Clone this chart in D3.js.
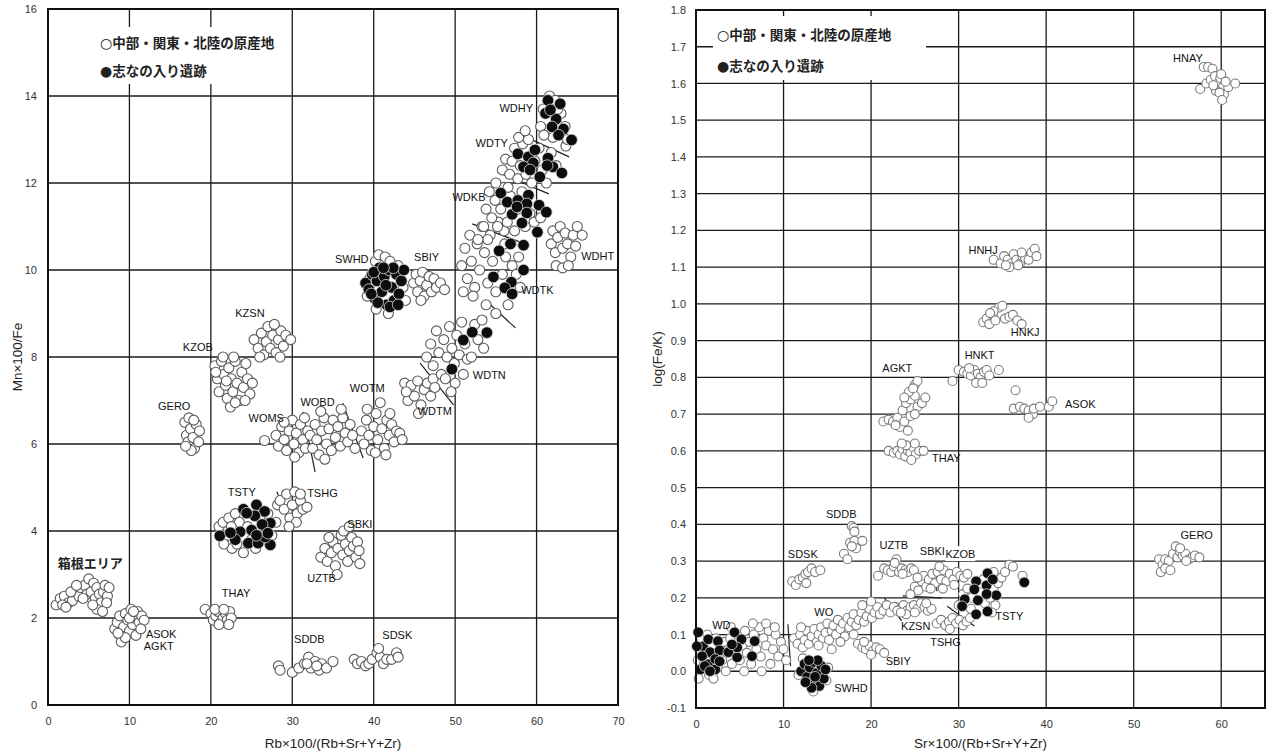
<!DOCTYPE html>
<html>
<head>
<meta charset="utf-8">
<script src="https://cdn.jsdelivr.net/npm/d3@7"></script>
<style>
  body { margin: 0; background: #fff; }
  svg { display: block; }
  .tick-label { font-family: "Liberation Sans", Arial, sans-serif; font-size: 11px; fill: #333; }
  .axis-title { font-family: "Liberation Sans", Arial, sans-serif; font-size: 13.5px; fill: #222; }
  .grp-label { font-family: "Liberation Sans", Arial, sans-serif; font-size: 11px; fill: #111; }
  .jp { font-family: "Noto Sans CJK JP", sans-serif; font-weight: bold; fill: #222; }
  .sym { font-family: "DejaVu Sans", sans-serif; font-weight: normal; }
</style>
</head>
<body>
<svg id="chart" width="1269" height="753"></svg>
<script>
// ---------- left panel: Mn×100/Fe vs Rb×100/(Rb+Sr+Y+Zr) ----------
const leftXTicks = [0, 10, 20, 30, 40, 50, 60, 70];
const leftYTicks = [0, 2, 4, 6, 8, 10, 12, 14, 16];

// source areas (open circles)
const hakoneL = [[1.0,2.3],[1.5,2.45],[2.0,2.5],[2.5,2.35],[3.0,2.4],[3.3,2.6],[3.8,2.5],[4.0,2.7],[4.5,2.75],[4.8,2.55],[5.0,2.9],[5.3,2.6],[5.6,2.8],[5.8,2.45],[6.0,2.7],[6.3,2.55],[6.5,2.35],[6.8,2.6],[7.0,2.75],[7.3,2.5],[7.5,2.7],[6.0,2.2],[1.8,2.3],[2.8,2.6],[4.3,2.45],[5.5,2.3],[3.5,2.75],[7.2,2.35],[2.2,2.25],[6.7,2.15]];
const asokL = [[8.2,1.75],[8.5,1.9],[8.8,2.05],[9.0,1.6],[9.3,1.8],[9.5,2.1],[9.8,1.95],[10.0,1.7],[10.2,2.2],[10.4,1.85],[10.6,2.0],[10.8,1.6],[11.0,2.15],[11.2,1.9],[11.5,2.05],[11.8,1.95],[9.0,1.45],[9.5,1.55],[10.0,2.0],[10.5,2.15],[8.6,1.65],[11.4,1.75]];
const thayL = [[19.3,2.2],[20.0,2.1],[20.3,1.95],[20.6,2.05],[20.9,2.15],[21.2,1.9],[21.5,2.0],[21.8,2.1],[22.0,1.95],[22.3,2.15],[22.5,2.0],[21.0,1.85],[20.5,2.2],[21.6,2.2],[22.2,1.85]];
const sddbL = [[28.3,0.9],[28.5,0.8],[30.0,0.75],[30.8,0.85],[31.5,0.95],[32.0,1.1],[32.3,0.85],[32.8,1.0],[33.3,0.8],[33.6,0.95],[34.2,0.85],[35.0,1.0],[31.8,0.95],[33.0,0.9]];
const sdskL = [[37.6,1.05],[38.0,0.95],[38.5,1.0],[39.0,0.9],[39.4,0.95],[39.8,1.05],[40.4,1.2],[40.8,1.1],[41.2,0.95],[41.6,1.05],[42.2,1.05],[42.8,1.2],[43.0,1.1],[40.6,1.3]];
const uztbL = [[33.5,3.4],[34.0,3.6],[34.3,3.3],[34.8,3.5],[35.0,3.75],[35.3,3.2],[35.6,3.6],[36.0,3.9],[36.2,3.45],[36.5,3.7],[36.8,3.3],[37.0,3.55],[37.3,3.85],[37.5,3.65],[37.8,3.4],[38.0,3.75],[38.2,3.55],[36.3,4.0],[35.5,3.0],[37.0,4.1],[34.5,3.85],[38.3,3.25]];
const tstyL = [[21.0,4.1],[21.5,4.2],[22.0,3.9],[22.2,4.3],[22.6,3.6],[23.0,4.4],[23.2,3.7],[23.5,4.2],[24.0,3.5],[24.5,4.1],[25.0,3.8],[25.5,3.6],[26.0,4.3],[26.5,3.8],[27.0,4.4],[27.5,3.9],[28.0,4.2],[28.2,4.6],[22.5,4.1],[21.6,3.7]];
const tshgL = [[28.5,4.7],[29.0,4.5],[29.3,4.85],[29.7,4.3],[30.0,4.6],[30.3,4.9],[30.6,4.4],[31.0,4.7],[31.3,4.5],[31.8,4.55],[30.5,4.2],[29.6,4.1],[31.0,4.85]];
const geroL = [[16.8,6.5],[17.0,6.2],[17.2,6.05],[17.5,6.35],[17.3,6.6],[17.8,6.15],[18.0,5.9],[18.2,6.45],[18.5,6.05],[18.6,6.3],[17.6,5.85],[16.9,5.95],[17.9,6.55]];
const kzobL = [[20.5,7.8],[20.8,7.5],[21.0,7.2],[21.3,7.9],[21.6,7.6],[21.8,7.35],[22.0,7.05],[22.2,7.75],[22.5,7.5],[22.7,7.2],[23.0,7.9],[23.2,7.4],[23.5,7.0],[23.8,7.65],[24.0,7.3],[24.3,7.85],[24.5,7.5],[24.8,7.15],[25.1,7.4],[22.4,6.85],[23.0,6.95],[21.5,8.0],[22.8,8.0],[20.6,7.65],[24.2,7.0],[21.9,7.45]];
const kzsnL = [[25.3,8.4],[25.8,8.2],[26.2,8.55],[26.5,8.05],[26.8,8.35],[27.0,8.7],[27.3,8.2],[27.6,8.5],[28.0,8.1],[28.3,8.4],[28.6,8.6],[28.9,8.25],[29.2,8.5],[29.8,8.4],[27.8,8.75],[26.0,8.0],[28.5,8.0]];
const womsL = [[26.6,6.08],[28.0,6.2],[28.3,5.95],[28.7,6.4],[29.0,6.1],[29.3,5.85],[29.6,6.3],[30.0,6.55],[30.2,6.0],[30.5,6.25],[30.8,5.8],[31.0,6.45],[31.3,6.1],[31.6,5.9],[31.9,6.3],[30.3,5.7],[29.0,6.5],[31.5,6.6]];
const wobdL = [[32.2,6.2],[32.5,5.9],[32.8,6.45],[33.0,6.1],[33.3,5.75],[33.6,6.3],[33.9,6.6],[34.2,6.0],[34.5,6.35],[34.8,5.85],[35.0,6.55],[35.3,6.15],[35.6,6.4],[35.9,5.95],[36.2,6.6],[36.5,6.25],[36.8,6.05],[37.1,6.45],[37.4,6.2],[37.7,5.9],[33.5,6.75],[36.0,6.8],[34.0,5.65]];
const wotmL = [[38.5,6.3],[38.8,6.0],[39.1,6.55],[39.4,6.2],[39.7,5.85],[40.0,6.4],[40.3,6.7],[40.5,6.1],[40.8,6.95],[41.0,6.35],[41.3,5.9],[41.6,6.55],[41.9,6.2],[42.2,6.45],[42.5,6.05],[42.8,6.3],[43.2,6.25],[43.5,6.1],[41.5,5.75],[40.2,5.8],[42.0,6.7],[39.2,6.8]];
const wdtmL = [[43.8,7.4],[44.2,7.0],[44.6,7.35],[45.0,7.1],[45.4,7.45],[45.8,6.9],[46.2,7.25],[46.6,7.4],[47.0,7.1],[44.0,7.2],[47.3,7.5],[45.5,6.7]];
const wdtnL = [[46.5,8.0],[47.0,8.3],[47.3,7.8],[47.7,8.6],[48.0,8.1],[48.3,7.6],[48.6,8.4],[49.0,8.0],[49.3,8.7],[49.6,8.2],[49.9,7.85],[50.2,8.5],[50.5,8.05],[50.8,8.8],[51.2,8.3],[51.5,7.95],[52.0,8.0],[52.4,8.75],[52.8,8.4],[53.3,8.85],[48.8,7.5],[50.0,7.4],[47.5,7.3],[53.5,8.2],[51.0,7.6],[49.5,7.2]];
const wdtkL = [[50.8,10.1],[51.2,10.5],[51.5,9.8],[51.8,10.8],[52.0,10.2],[52.4,9.6],[52.7,10.6],[53.0,10.0],[53.3,11.0],[53.6,10.4],[54.0,9.7],[54.3,10.8],[54.6,10.2],[55.0,9.5],[55.3,11.1],[55.8,9.9],[56.2,10.3],[56.5,9.2],[57.0,10.1],[57.5,9.9],[58.0,9.6],[52.2,9.4],[53.8,9.2],[51.0,9.5],[57.8,10.3],[56.0,10.9],[55.0,9.0]];
const wdkbL = [[53.5,11.0],[53.8,11.4],[54.2,11.8],[54.5,11.2],[54.9,11.6],[55.2,11.0],[55.6,11.4],[56.0,11.9],[56.4,11.1],[56.8,11.7],[57.3,10.9],[57.7,11.4],[58.2,11.8],[58.6,11.0],[59.2,11.3],[59.7,11.1],[60.5,11.2],[55.0,12.0],[54.0,10.7],[56.1,10.6],[52.8,10.7]];
const wdtyL = [[55.8,12.3],[56.2,12.55],[56.7,12.2],[57.0,12.5],[57.3,12.8],[57.7,12.1],[58.0,12.4],[58.3,12.9],[58.7,12.2],[59.0,13.0],[59.4,12.0],[59.8,12.5],[60.3,12.8],[60.7,12.3],[61.2,12.0],[61.8,12.7],[62.4,12.4],[57.8,13.05],[58.6,13.2],[56.5,11.9]];
const wdhyL = [[60.5,13.3],[60.8,13.7],[61.6,14.0],[62.3,13.9],[63.0,13.6],[63.5,13.3],[62.0,13.05],[63.6,12.85],[60.9,13.1],[62.6,13.7],[63.8,13.0]];
const wdhtL = [[61.8,10.6],[62.0,10.9],[62.3,10.4],[62.6,10.75],[62.9,11.0],[63.2,10.5],[63.5,10.85],[63.8,10.6],[64.2,10.3],[64.5,10.8],[65.0,11.0],[65.6,10.8],[62.4,10.1],[63.2,10.05],[63.9,10.1],[64.8,10.55]];
const swhdL = [[39.2,9.4],[39.5,9.8],[40.2,10.2],[40.6,10.35],[41.4,10.3],[42.0,10.2],[43.6,9.6],[43.9,9.3],[40.3,9.1],[41.8,9.0],[43.0,10.1]];
const sbiyL = [[44.9,9.7],[45.2,9.9],[45.4,9.5],[45.7,9.75],[46.0,9.95],[46.2,9.4],[46.5,9.65],[46.8,9.85],[47.1,9.5],[47.4,9.8],[47.7,9.6],[48.2,9.7],[48.7,9.55],[45.8,9.3]];

// 志なの入り遺跡 (filled circles)
const siteTstyL = [[21.1,3.89],[24.0,4.5],[25.6,4.6],[26.6,4.45],[25.4,4.35],[27.3,4.18],[26.3,4.15],[25.0,4.02],[23.6,3.98],[23.0,3.8],[24.6,3.72],[25.8,3.72],[27.3,3.68],[26.7,3.86],[27.0,3.95],[25.6,3.9],[22.4,3.96],[24.4,4.41]];
const siteSwhdL = [[39.0,9.7],[39.4,9.55],[39.8,9.9],[40.1,9.35],[40.4,9.75],[40.7,10.05],[41.0,9.5],[41.3,9.85],[41.6,9.2],[41.9,10.0],[42.2,9.6],[42.5,9.3],[42.8,9.9],[43.1,9.45],[43.4,9.75],[43.7,10.0],[41.5,9.65],[40.5,9.25],[42.0,9.15],[40.0,9.95],[43.0,9.2],[39.7,9.45],[42.4,10.05],[41.2,10.05]];
const siteWdtnL = [[51.0,8.39],[52.1,8.57],[53.9,8.56],[49.6,7.72]];
const siteWdtkL = [[55.4,10.44],[56.8,10.6],[58.4,10.57],[58.4,10.0],[54.7,9.84],[56.9,9.72],[56.1,9.59],[57.0,9.45]];
const siteWdkbL = [[55.6,11.77],[56.4,11.56],[57.7,11.6],[59.0,11.72],[58.8,11.52],[60.3,11.49],[61.2,11.33],[57.0,11.28],[58.8,11.31],[58.2,11.08],[60.1,10.87],[57.6,11.45]];
const siteWdtyL = [[57.7,12.67],[59.0,12.6],[59.6,12.46],[58.4,12.37],[60.4,12.14],[61.4,12.57],[62.0,12.37],[63.1,12.23],[59.8,12.76],[59.2,12.3],[61.3,12.4]];
const siteWdhyL = [[61.4,13.9],[62.9,13.82],[61.1,13.6],[62.4,13.47],[61.9,13.29],[63.3,13.24],[62.7,13.1],[64.3,12.99],[61.7,13.68]];

const leftLabels = [
  ["WDHY",57.5,13.72],["WDTY",54.5,12.92],["WDKB",51.7,11.68],["SWHD",37.3,10.25],["SBIY",46.5,10.3],
  ["WDHT",67.5,10.32],["WDTK",60.1,9.54],["WDTN",54.2,7.59],["WDTM",47.5,6.76],["WOTM",39.2,7.29],
  ["WOBD",33.1,6.97],["WOMS",26.8,6.6],["KZSN",24.8,9.01],["KZOB",18.4,8.23],["GERO",15.5,6.87],
  ["TSTY",23.8,4.9],["TSHG",33.7,4.87],["SBKI",38.3,4.16],["UZTB",33.6,2.92],["THAY",23.1,2.57],
  ["ASOK",13.9,1.63],["AGKT",13.6,1.35],["SDDB",32.1,1.52],["SDSK",42.9,1.61]
];
const leftJpLabels = [["箱根エリア",5.2,3.26]];
const leftDividers = [
  [[58.2,13.1],[64.0,12.6]],[[55.2,12.25],[61.5,11.75]],[[52.1,11.06],[58.0,10.64]],
  [[53.7,9.31],[57.4,8.67]],[[45.7,7.86],[49.8,6.9]],[[31.3,6.74],[32.8,5.36]],
  [[36.2,6.94],[38.7,5.68]],[[28.1,4.9],[30.1,4.02]]
];

// ---------- right panel: log(Fe/K) vs Sr×100/(Rb+Sr+Y+Zr) ----------
const rightXTicks = [0, 10, 20, 30, 40, 50, 60];
const rightYTicks = d3.range(-1, 19).map(i => i / 10);

const hnayR = [[58.0,1.645],[58.5,1.645],[59.0,1.64],[57.6,1.585],[58.3,1.6],[58.8,1.61],[59.3,1.62],[59.6,1.6],[59.9,1.615],[60.2,1.59],[60.0,1.625],[59.4,1.58],[60.3,1.57],[59.8,1.575],[60.1,1.555],[60.8,1.59],[61.6,1.6],[60.5,1.605],[59.1,1.595]];
const hnhjR = [[34.0,1.12],[34.8,1.11],[35.2,1.13],[35.6,1.12],[36.0,1.11],[36.3,1.135],[36.6,1.12],[37.0,1.11],[37.3,1.13],[37.6,1.125],[38.0,1.12],[38.3,1.14],[38.7,1.15],[38.9,1.13],[35.8,1.1],[36.8,1.105],[37.2,1.14],[35.4,1.105]];
const hnkjR = [[32.8,0.95],[33.2,0.96],[33.5,0.945],[33.9,0.97],[34.2,0.955],[34.6,0.99],[35.0,0.995],[35.3,0.96],[35.8,0.965],[36.2,0.97],[36.7,0.955],[37.2,0.945],[34.0,0.98],[33.6,0.975]];
const hnktR = [[29.3,0.79],[30.0,0.82],[30.6,0.815],[31.0,0.81],[31.4,0.805],[31.8,0.82],[32.2,0.81],[32.5,0.8],[32.9,0.815],[33.2,0.82],[33.5,0.805],[34.6,0.82],[32.0,0.785],[32.7,0.785],[31.2,0.825]];
const asokR = [[36.5,0.765],[36.3,0.715],[37.0,0.72],[37.5,0.715],[38.0,0.71],[38.5,0.7],[38.6,0.715],[39.3,0.72],[40.3,0.72],[40.7,0.735],[38.0,0.69]];
const agktR = [[21.4,0.68],[22.0,0.685],[22.5,0.68],[23.0,0.69],[23.3,0.665],[23.8,0.68],[24.2,0.655],[24.5,0.695],[23.6,0.71],[24.0,0.73],[24.5,0.74],[25.0,0.75],[25.3,0.72],[25.8,0.73],[24.3,0.76],[25.0,0.78],[25.3,0.79],[24.8,0.77],[23.8,0.745],[26.2,0.745],[22.8,0.67],[25.0,0.7]];
const thayR = [[22.0,0.6],[22.6,0.595],[23.0,0.6],[23.3,0.59],[23.6,0.605],[23.9,0.585],[24.2,0.6],[24.5,0.595],[24.8,0.61],[25.1,0.59],[25.5,0.6],[26.0,0.6],[24.0,0.615],[24.6,0.575],[23.5,0.62],[25.0,0.62]];
const sddbR = [[17.8,0.395],[18.0,0.39],[18.1,0.38],[17.6,0.35],[18.1,0.355],[19.0,0.355],[18.3,0.335],[16.9,0.32],[17.3,0.305],[17.8,0.34]];
const sdskR = [[11.0,0.245],[11.4,0.235],[11.8,0.25],[12.2,0.255],[12.5,0.265],[12.8,0.27],[13.2,0.28],[13.6,0.27],[14.2,0.275],[12.6,0.24]];
const uztbR = [[20.8,0.26],[21.5,0.28],[21.9,0.275],[22.3,0.27],[22.6,0.285],[22.9,0.305],[23.2,0.27],[23.5,0.28],[23.9,0.275],[24.2,0.27],[24.6,0.28],[24.9,0.275],[22.7,0.295],[23.6,0.265]];
const sbkiR = [[24.5,0.21],[25.0,0.23],[25.4,0.22],[25.8,0.245],[26.0,0.26],[26.3,0.23],[26.6,0.25],[27.0,0.265],[27.3,0.24],[27.6,0.27],[28.0,0.25],[28.3,0.275],[28.6,0.245],[29.0,0.265],[29.4,0.25],[29.8,0.27],[30.2,0.26],[30.6,0.255],[31.0,0.265],[26.8,0.225],[28.2,0.225],[25.3,0.255],[29.5,0.235],[27.8,0.285]];
const kzsnR = [[22.8,0.175],[23.3,0.17],[23.7,0.18],[24.1,0.165],[24.5,0.175],[24.9,0.18],[25.3,0.17],[25.7,0.185],[26.1,0.175],[26.5,0.165],[26.9,0.17],[24.0,0.155],[25.0,0.16],[26.3,0.185]];
const tshgR = [[27.5,0.13],[28.0,0.14],[28.5,0.125],[28.9,0.135],[29.3,0.145],[29.7,0.13],[30.1,0.14],[30.5,0.125],[30.9,0.135],[31.3,0.145],[29.0,0.115]];
const tstyR = [[30.0,0.18],[30.5,0.21],[31.0,0.225],[31.5,0.2],[32.5,0.215],[33.0,0.185],[33.6,0.2],[34.0,0.225],[34.5,0.24],[34.9,0.255],[35.3,0.27],[35.8,0.29],[36.2,0.285],[34.2,0.18],[33.8,0.16],[31.4,0.17],[32.8,0.25],[37.3,0.26],[34.0,0.27]];
const woR = [[11.2,0.09],[11.6,0.075],[11.9,0.1],[12.2,0.065],[12.4,0.085],[12.7,0.11],[12.9,0.075],[13.2,0.095],[13.5,0.115],[13.8,0.08],[14.0,0.1],[14.3,0.12],[14.5,0.09],[14.8,0.105],[15.0,0.13],[15.2,0.085],[15.5,0.11],[15.7,0.125],[16.0,0.1],[16.2,0.14],[16.5,0.115],[16.8,0.13],[17.0,0.095],[17.3,0.145],[17.5,0.12],[17.8,0.135],[18.0,0.155],[18.3,0.125],[18.6,0.14],[18.9,0.16],[19.2,0.135],[19.5,0.15],[19.8,0.17],[20.1,0.145],[20.4,0.16],[20.7,0.175],[21.0,0.155],[21.4,0.165],[21.8,0.18],[22.2,0.16],[22.6,0.175],[23.0,0.165],[23.4,0.16],[16.5,0.08],[14.0,0.07],[12.0,0.12],[18.0,0.1],[19.0,0.18],[20.0,0.19],[15.5,0.06]];
const sbiyR = [[18.5,0.075],[19.0,0.065],[19.4,0.06],[19.8,0.07],[20.2,0.055],[20.6,0.065],[21.0,0.06],[21.5,0.05],[20.0,0.045],[19.2,0.08]];
const wdR = [[0.2,0.03],[0.4,0.06],[0.6,0.09],[0.9,0.02],[1.1,0.05],[1.3,0.1],[1.5,-0.01],[1.8,0.07],[2.0,0.04],[2.3,0.09],[2.5,0.01],[2.8,0.06],[3.0,0.03],[3.2,0.08],[3.4,0.0],[3.6,0.05],[3.9,0.09],[4.1,0.02],[4.4,0.06],[4.7,0.1],[5.0,0.03],[5.3,0.07],[5.6,0.11],[5.8,0.05],[6.1,0.08],[6.3,0.02],[6.6,0.1],[6.9,0.06],[7.2,0.12],[7.4,0.04],[7.7,0.09],[8.0,0.07],[8.3,0.11],[8.5,0.02],[8.8,0.06],[9.1,0.1],[9.4,0.04],[9.7,0.08],[10.0,0.06],[10.3,0.03],[7.5,0.0],[5.5,0.0],[0.3,-0.02],[8.0,0.13],[9.0,0.12],[6.5,0.13],[2.0,-0.02],[4.0,0.12]];
const swhdR = [[11.7,-0.01],[12.2,0.035],[14.9,-0.025],[13.4,-0.055],[15.1,0.01]];
const geroR = [[52.9,0.305],[53.3,0.29],[53.6,0.305],[54.0,0.3],[54.5,0.32],[54.8,0.34],[55.0,0.31],[55.3,0.325],[55.6,0.315],[55.9,0.32],[56.3,0.305],[56.7,0.31],[57.0,0.315],[57.5,0.31],[53.1,0.27],[53.6,0.28],[54.2,0.275],[56.0,0.3],[55.3,0.335]];

const siteWdR = [[0.25,0.106],[0.8,0.068],[1.4,0.087],[1.6,0.052],[2.5,0.082],[2.7,0.057],[0.7,0.041],[1.4,0.019],[2.2,0.033],[0.5,0.005],[2.2,0.005],[2.7,0.027],[3.7,0.052],[4.4,0.106],[4.7,0.038],[5.2,0.087],[4.7,0.065],[6.4,0.041],[6.7,0.082],[1.0,0.014],[1.6,0.0],[4.1,0.073],[0.1,0.068]];
const siteSwhdR = [[12.0,0.0],[12.4,0.02],[12.7,-0.015],[13.0,0.01],[13.3,-0.03],[13.5,0.025],[13.8,-0.005],[14.1,-0.04],[14.3,0.015],[14.6,-0.02],[13.2,-0.045],[12.5,-0.03],[13.9,0.03],[14.8,0.005],[12.9,0.03],[13.6,-0.015]];
const siteTstyR = [[33.3,0.267],[32.0,0.245],[33.2,0.234],[31.8,0.223],[34.3,0.207],[33.2,0.21],[30.7,0.196],[32.2,0.193],[30.4,0.177],[33.3,0.163],[32.0,0.155],[33.9,0.25],[37.5,0.242]];

const rightLabels = [
  ["HNAY",56.2,1.67],["HNHJ",32.8,1.147],["HNKJ",37.6,0.924],["HNKT",32.4,0.861],["AGKT",23.0,0.826],
  ["ASOK",43.9,0.728],["THAY",28.6,0.58],["SDDB",16.6,0.428],["SDSK",12.2,0.319],["UZTB",22.6,0.343],
  ["SBKI",27.0,0.327],["KZOB",30.2,0.319],["KZSN",25.1,0.123],["TSHG",28.5,0.079],["TSTY",35.8,0.15],
  ["GERO",57.2,0.37],["WO",14.6,0.16],["WD",2.9,0.125],["SBIY",23.1,0.027],["SWHD",17.7,-0.046]
];
const rightDividers = [
  [[10.5,0.128],[10.8,0.014]],[[21.5,0.2],[23.5,0.137]],[[27.5,0.285],[27.5,0.218]],
  [[23.6,0.205],[28.0,0.2]],[[28.7,0.177],[31.8,0.123]]
];

const legendOpen = ["○", "中部・関東・北陸の原産地"];
const legendFilled = ["●", "志なの入り遺跡"];

const svg = d3.select("#chart");

function drawPanel(p) {
  const x = d3.scaleLinear().domain(p.xDomain).range([p.left, p.right]);
  const y = d3.scaleLinear().domain(p.yDomain).range([p.bottom, p.top]);
  const g = svg.append("g");

  // grid
  g.selectAll(".vgrid").data(p.xTicks.filter(t => t > p.xDomain[0] && t < p.xDomain[1]))
    .enter().append("line")
    .attr("x1", d => x(d)).attr("x2", d => x(d))
    .attr("y1", p.top).attr("y2", p.bottom)
    .attr("stroke", "#1a1a1a").attr("stroke-width", 1.3);
  g.selectAll(".hgrid").data(p.yTicks.filter(t => t > p.yDomain[0] + 1e-9 && t < p.yDomain[1] - 1e-9))
    .enter().append("line")
    .attr("x1", p.left).attr("x2", p.right)
    .attr("y1", d => y(d)).attr("y2", d => y(d))
    .attr("stroke", "#1a1a1a").attr("stroke-width", 1.3);

  // legend box hides grid lines
  g.append("rect")
    .attr("x", p.legend.x).attr("y", p.legend.y)
    .attr("width", p.legend.w).attr("height", p.legend.h)
    .attr("fill", "#fff");
  [[legendOpen, p.legend.row1], [legendFilled, p.legend.row2]].forEach(([t, dy]) => {
    const txt = g.append("text").attr("class", "jp").attr("font-size", 13.5)
      .attr("x", p.legend.x + 4).attr("y", p.legend.y + dy);
    txt.append("tspan").attr("class", "sym").attr("font-size", 14).text(t[0]);
    txt.append("tspan").text(t[1]);
  });

  // group divider lines
  g.selectAll(".divider").data(p.dividers).enter().append("line")
    .attr("x1", d => x(d[0][0])).attr("y1", d => y(d[0][1]))
    .attr("x2", d => x(d[1][0])).attr("y2", d => y(d[1][1]))
    .attr("stroke", "#222").attr("stroke-width", 1.2);

  // source-area points
  const open = p.sources.flat();
  g.selectAll(".open").data(open).enter().append("circle")
    .attr("cx", d => x(d[0])).attr("cy", d => y(d[1]))
    .attr("r", p.rOpen)
    .attr("fill", "#fff").attr("stroke", p.openStroke).attr("stroke-width", 1.1);

  // site points
  const filled = p.sites.flat();
  g.selectAll(".filled").data(filled).enter().append("circle")
    .attr("cx", d => x(d[0])).attr("cy", d => y(d[1]))
    .attr("r", p.rFill)
    .attr("fill", "#0d0d0d").attr("stroke", "#d8d8d8").attr("stroke-width", 0.8);

  // group labels
  const lab = g.selectAll(".grp-label").data(p.labels).enter().append("g");
  lab.filter(d => p.boxed.includes(d[0])).append("rect")
    .attr("x", d => x(d[1]) - 15).attr("y", d => y(d[2]) - 8)
    .attr("width", 30).attr("height", 15).attr("fill", "#fff");
  lab.append("text").attr("class", "grp-label")
    .attr("x", d => x(d[1])).attr("y", d => y(d[2]))
    .attr("text-anchor", "middle").attr("dy", "0.36em")
    .text(d => d[0]);

  (p.jpLabels || []).forEach(d => {
    g.append("text").attr("class", "jp").attr("font-size", 13)
      .attr("x", x(d[1])).attr("y", y(d[2])).attr("dy", "0.36em")
      .attr("text-anchor", "middle").text(d[0]);
  });

  // frame
  g.append("rect")
    .attr("x", p.left).attr("y", p.top)
    .attr("width", p.right - p.left).attr("height", p.bottom - p.top)
    .attr("fill", "none").attr("stroke", "#111").attr("stroke-width", 2);

  // axes (labels only)
  const xAxis = d3.axisBottom(x).tickValues(p.xTicks).tickSize(0).tickPadding(12);
  const yAxis = d3.axisLeft(y).tickValues(p.yTicks).tickSize(0).tickPadding(p.yPad).tickFormat(p.yFormat);
  const ax = g.append("g").attr("transform", `translate(0,${p.bottom})`).call(xAxis);
  const ay = g.append("g").attr("transform", `translate(${p.left},0)`).call(yAxis);
  [ax, ay].forEach(a => {
    a.select(".domain").remove();
    a.selectAll("text").attr("class", "tick-label").attr("font-family", null).attr("font-size", null).attr("fill", null);
  });

  g.append("text").attr("class", "axis-title")
    .attr("x", (p.left + p.right) / 2).attr("y", 748)
    .attr("text-anchor", "middle").text(p.xTitle);
  g.append("text").attr("class", "axis-title")
    .attr("transform", `translate(${p.yTitleX},${(p.top + p.bottom) / 2}) rotate(-90)`)
    .attr("text-anchor", "middle").text(p.yTitle);
}

drawPanel({
  left: 48, right: 618, top: 9, bottom: 705,
  xDomain: [0, 70], yDomain: [0, 16],
  xTicks: leftXTicks, yTicks: leftYTicks, yFormat: d3.format("d"), yPad: 11,
  sources: [hakoneL, asokL, thayL, sddbL, sdskL, uztbL, tstyL, tshgL, geroL, kzobL, kzsnL,
            womsL, wobdL, wotmL, wdtmL, wdtnL, wdtkL, wdkbL, wdtyL, wdhyL, wdhtL, swhdL, sbiyL],
  sites: [siteTstyL, siteSwhdL, siteWdtnL, siteWdtkL, siteWdkbL, siteWdtyL, siteWdhyL],
  labels: leftLabels, jpLabels: leftJpLabels, dividers: leftDividers, boxed: [],
  rOpen: 5, rFill: 5.8, openStroke: "#5a5a5a",
  legend: { x: 96, y: 27, w: 172, h: 57, row1: 21, row2: 49 },
  xTitle: "Rb×100/(Rb+Sr+Y+Zr)", yTitle: "Mn×100/Fe", yTitleX: 22
});

drawPanel({
  left: 696, right: 1265, top: 10, bottom: 708,
  xDomain: [0, 65], yDomain: [-0.1, 1.8],
  xTicks: rightXTicks, yTicks: rightYTicks, yFormat: d => d.toFixed(1), yPad: 10,
  sources: [hnayR, hnhjR, hnkjR, hnktR, asokR, agktR, thayR, sddbR, sdskR, uztbR, sbkiR, kzsnR,
            tshgR, tstyR, woR, sbiyR, wdR, swhdR, geroR],
  sites: [siteWdR, siteSwhdR, siteTstyR],
  labels: rightLabels, dividers: rightDividers, boxed: ["SBKI", "KZOB"],
  rOpen: 4.5, rFill: 5.3, openStroke: "#7a7a7a",
  legend: { x: 713, y: 16, w: 213, h: 64, row1: 24, row2: 55 },
  xTitle: "Sr×100/(Rb+Sr+Y+Zr)", yTitle: "log(Fe/K)", yTitleX: 662
});
</script>
</body>
</html>
